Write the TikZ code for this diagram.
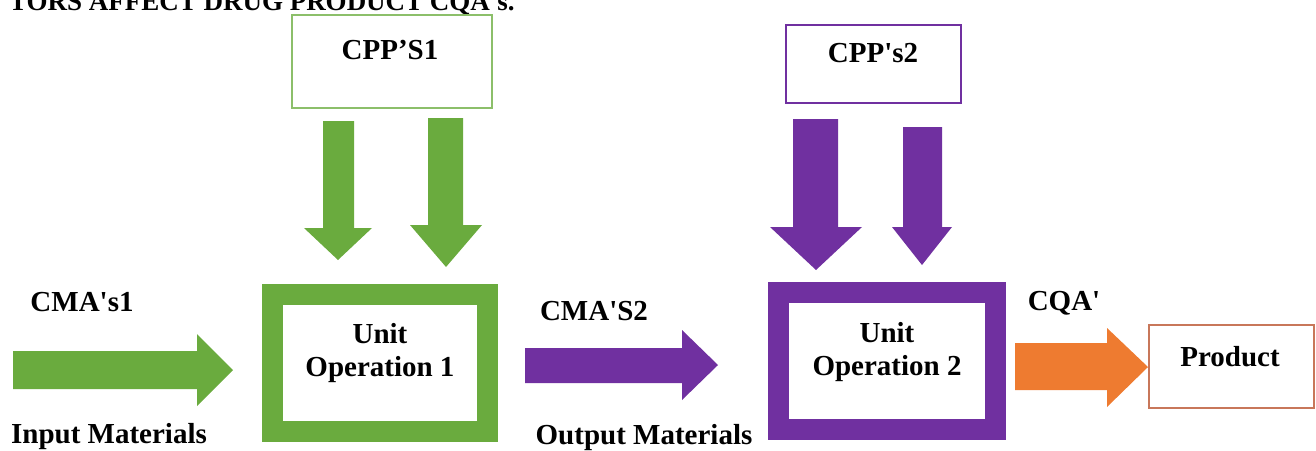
\documentclass[tikz,border=0pt]{standalone}
\usepackage{fontspec}
\setmainfont{Liberation Serif}[Ligatures=TeXOff]
\definecolor{gr}{HTML}{6AAB3E}
\definecolor{grl}{HTML}{8CBF6A}
\definecolor{pu}{HTML}{7030A0}
\definecolor{og}{HTML}{EE7B30}
\definecolor{ogb}{HTML}{C8775A}
\begin{document}
\begin{tikzpicture}[x=1pt,y=-1pt,
  lbl/.style={font=\fontsize{29}{33}\selectfont\bfseries, inner sep=0pt, align=center, text=black},
  ttl/.style={font=\fontsize{27}{30}\selectfont\bfseries, inner sep=0pt},
  thinbox/.style={draw, line width=1.8pt, fill=white, inner sep=0pt},
  thickbox/.style={draw, line width=21pt, fill=white, inner sep=0pt},
  blk/.style={draw=none}]
\useasboundingbox (0,0) rectangle (1316,450);
\begin{scope}
\clip (0,0) rectangle (1316,450);
\node[ttl, anchor=base east] (title) at (515,10) {TORS AFFECT DRUG PRODUCT CQA's.};
\end{scope}

% top boxes
\node[thinbox, draw=grl, minimum width=200pt, minimum height=93pt] (cpp1) at (392,61.5) {};
\node[lbl] (cpp1t) at (390,50) {CPP’S1};
\node[thinbox, draw=pu, minimum width=175pt, minimum height=78pt] (cpp2) at (873.5,64) {};
\node[lbl] (cpp2t) at (873,53) {CPP's2};

% unit operation boxes
\node[thickbox, draw=gr, minimum width=215pt, minimum height=137pt] (u1) at (380,362.5) {};
\node[lbl] (u1t) at (380,353.5) {Unit\\Operation 1};
\node[thickbox, draw=pu, minimum width=217pt, minimum height=136.5pt] (u2) at (886.5,360.75) {};
\node[lbl] (u2t) at (887,352.5) {Unit\\Operation 2};

% product
\node[thinbox, draw=ogb, line width=1.5pt, minimum width=165pt, minimum height=83pt] (prod) at (1231.5,366.5) {};
\node[lbl] (prodt) at (1230,357) {Product};

% labels
\node[lbl] (cma1) at (82,302) {CMA's1};
\node[lbl] (inm) at (109,437) {Input Materials};
\node[lbl] (cma2) at (594,311) {CMA'S2};
\node[lbl] (outm) at (644,438) {Output Materials};
\node[lbl] (cqa) at (1064,303) {CQA'};

% green down arrows
\fill[gr] (323,121) -- (354,121) -- (354,228) -- (372,228) -- (338,260) -- (304,228) -- (323,228) -- cycle;
\fill[gr] (428,118) -- (463,118) -- (463,225) -- (482,225) -- (446,267) -- (410,225) -- (428,225) -- cycle;
% purple down arrows
\fill[pu] (793,119) -- (838,119) -- (838,227) -- (862,227) -- (816,270) -- (770,227) -- (793,227) -- cycle;
\fill[pu] (903,127) -- (942,127) -- (942,227) -- (952,227) -- (922,265) -- (892,227) -- (903,227) -- cycle;

% horizontal block arrows
\fill[gr] (13,351) -- (197,351) -- (197,334) -- (233,370) -- (197,406) -- (197,389) -- (13,389) -- cycle;
\fill[pu] (525,348) -- (682,348) -- (682,330) -- (718,365) -- (682,400) -- (682,383) -- (525,383) -- cycle;
\fill[og] (1015,343) -- (1107,343) -- (1107,328) -- (1148,367) -- (1107,407) -- (1107,390) -- (1015,390) -- cycle;
\end{tikzpicture}
\end{document}
